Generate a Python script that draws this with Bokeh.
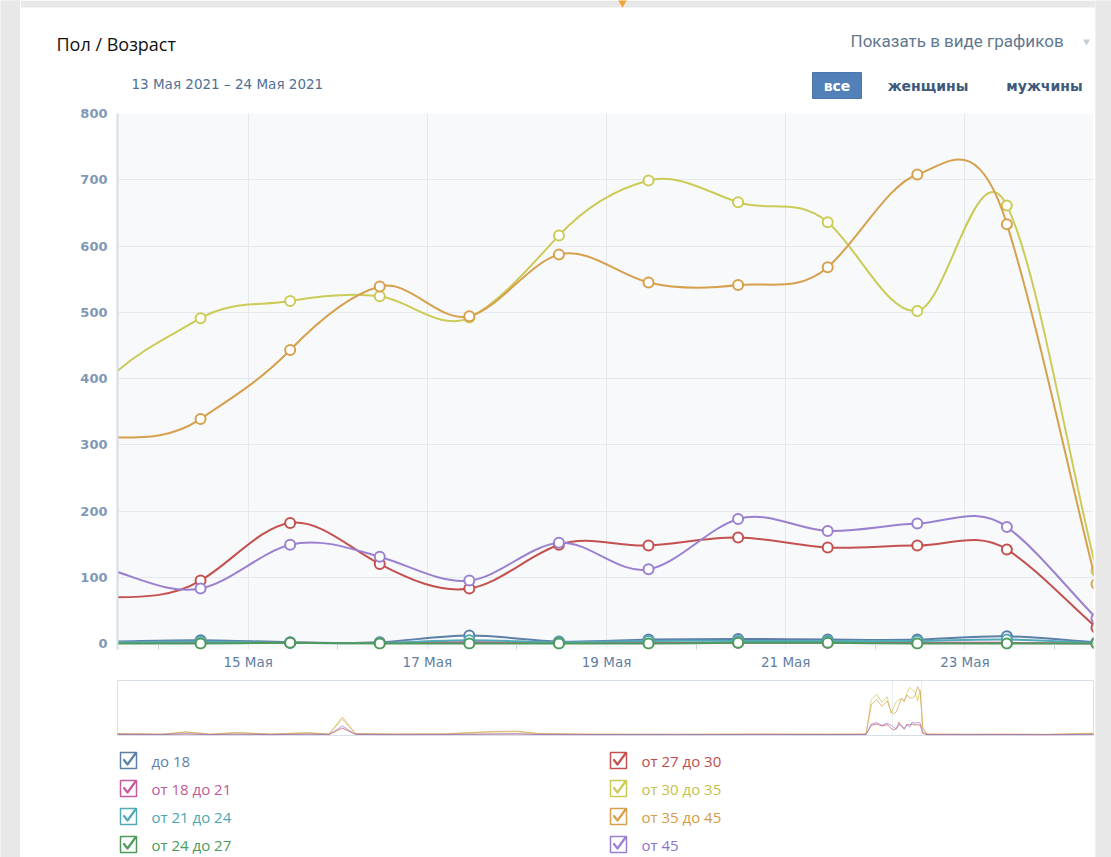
import numpy as np
import pandas as pd
from bokeh.plotting import figure
from bokeh.layouts import row, column
from bokeh.models import Range1d, FixedTicker, DatetimeTickFormatter, BoxAnnotation, ColumnDataSource
from bokeh.core.properties import value
from bokeh.embed import file_html
from bokeh.resources import INLINE

# ------------------------------------------------------------------ data
chart_title = "Пол / Возраст"
period_label = "13 Мая 2021 – 24 Мая 2021"
period_start = "2021-05-13"
period_end = "2021-05-24"
view_switch = "Показать в виде графиков"
tab_labels = ["все", "женщины", "мужчины"]

dates = ["2021-05-12", "2021-05-13", "2021-05-14", "2021-05-15", "2021-05-16", "2021-05-17",
         "2021-05-18", "2021-05-19", "2021-05-20", "2021-05-21", "2021-05-22", "2021-05-23",
         "2021-05-24"]

series_names = ["до 18", "от 18 до 21", "от 21 до 24", "от 24 до 27",
                "от 27 до 30", "от 30 до 35", "от 35 до 45", "от 45"]

age_u18 = [2, 3, 5, 2, 2, 12, 3, 6, 7, 6, 6, 11, 2]
age_18_21 = [1, 1, 1, 1, 1, 2, 1, 1, 1, 1, 1, 1, 0]
age_21_24 = [2, 2, 3, 1, 1, 5, 2, 4, 4, 4, 4, 6, 1]
age_24_27 = [0, 0, 0, 1, 0, 0, 0, 0, 1, 1, 0, 0, 0]
age_27_30 = [95, 70, 95, 182, 120, 83, 149, 148, 160, 145, 148, 142, 24]
age_30_35 = [315, 403, 491, 517, 524, 492, 616, 699, 666, 636, 502, 661, 110]
age_35_45 = [340, 311, 339, 443, 539, 494, 587, 545, 541, 568, 708, 633, 90]
age_45 = [140, 111, 83, 149, 131, 95, 152, 112, 188, 170, 181, 176, 38]

series_values = [age_u18, age_18_21, age_21_24, age_24_27, age_27_30, age_30_35, age_35_45, age_45]
series_colors = ["#5b7fa7", "#c65a9b", "#52a9b7", "#4d9a5b", "#c4504f", "#cbcb57", "#d6a04d", "#9a80d0"]
label_colors = ["#5d81a8", "#c05a96", "#4ba6b3", "#4c9a58", "#c04d4d", "#c2c24f", "#d39c48", "#8c72c8"]

y_ticks = [0, 100, 200, 300, 400, 500, 600, 700, 800]
x_tick_dates = ["2021-05-15", "2021-05-17", "2021-05-19", "2021-05-21", "2021-05-23"]
x_minor_dates = ["2021-05-14", "2021-05-16", "2021-05-18", "2021-05-20", "2021-05-22", "2021-05-24"]

# navigator (overview of the whole year, light lines)
nav_dates_before = ["2020-07-24", "2020-08-10", "2020-08-19", "2020-08-28", "2020-09-07", "2020-09-20",
                    "2020-10-04", "2020-10-12", "2020-10-17", "2020-10-22", "2020-11-05", "2020-11-25",
                    "2020-12-13", "2020-12-22", "2020-12-30", "2021-01-20", "2021-02-20", "2021-03-25",
                    "2021-04-20", "2021-05-03", "2021-05-05", "2021-05-07", "2021-05-09", "2021-05-11"]
nav_yellow_before = [15, 8, 45, 8, 35, 10, 35, 10, 230, 15, 10, 12, 40, 45, 15, 8, 6, 10, 8, 10, 520, 600, 480, 560]
nav_orange_before = [20, 10, 40, 10, 30, 12, 25, 12, 260, 20, 12, 15, 50, 55, 20, 10, 8, 12, 10, 12, 440, 520, 420, 500]
nav_purple_before = [8, 5, 15, 5, 10, 5, 10, 5, 130, 8, 5, 5, 12, 15, 6, 4, 4, 5, 4, 5, 160, 180, 140, 170]
nav_red_before = [6, 4, 12, 4, 8, 4, 8, 4, 100, 6, 4, 4, 10, 12, 5, 3, 3, 4, 3, 4, 140, 160, 130, 150]
nav_dates_after = ["2021-05-26", "2021-06-10", "2021-06-25", "2021-07-10", "2021-07-28"]
nav_yellow_after = [10, 6, 8, 5, 20]
nav_orange_after = [12, 8, 10, 6, 25]
nav_purple_after = [4, 3, 3, 2, 6]
nav_red_after = [3, 2, 3, 2, 5]
nav_start = "2020-07-24"
nav_end = "2021-07-28"

# ------------------------------------------------------------------ helpers
GRAY = "#e8e8e8"
POINT_OFFSET = pd.Timedelta(hours=11.25)
SMOOTH = 0.7


def ms(d):
    return pd.Timestamp(d).value / 1e6


def bezier_parts(xv, yv):
    xv = np.asarray(xv, float)
    yv = np.asarray(yv, float)
    t = np.zeros(len(yv))
    t[1:-1] = SMOOTH * (yv[2:] - yv[:-2])
    t[-1] = yv[-1] - yv[-2]
    h = np.diff(xv)
    return dict(x0=xv[:-1], y0=yv[:-1], x1=xv[1:], y1=yv[1:],
                cx0=xv[:-1] + h / 3, cy0=yv[:-1] + t[:-1] / 3,
                cx1=xv[1:] - h / 3, cy1=yv[1:] - t[1:] / 3)


x_pts = np.array([ms(pd.Timestamp(d) + POINT_OFFSET) for d in dates])

W = 1075
H_HEAD, H_MAIN, H_NAV, H_LEG = 100, 572, 70, 115


def pixel_figure(h):
    f = figure(width=W, height=h, x_range=Range1d(0, W), y_range=Range1d(h, 0),
               output_backend="svg", toolbar_location=None, min_border=0,
               x_axis_location=None, y_axis_location=None, outline_line_color=None,
               background_fill_color="white", border_fill_color="white")
    f.grid.visible = False
    f.frame_align = False
    return f


# ------------------------------------------------------------------ header
header = pixel_figure(H_HEAD)
header.quad(left=[0], right=[W], top=[0], bottom=[7], fill_color=GRAY, line_color=None)
header.scatter(x=[602], y=[2], marker="inverted_triangle", size=9, fill_color="#f2a533", line_color=None)
header.text(x=[36], y=[43], text=[chart_title], text_font=value("Open Sans"), text_font_size="18px",
            text_baseline="middle", text_color="#111111")
header.text(x=[111], y=[83], text=[period_label], text_font=value("DejaVu Sans"), text_font_size="13.5px",
            text_baseline="middle", text_color="#4f6f94")
header.text(x=[830], y=[40], text=[view_switch], text_font=value("Roboto"), text_font_size="17px",
            text_baseline="middle", text_color="#62788f")
header.scatter(x=[1066], y=[41], marker="inverted_triangle", size=7, fill_color="#c6ced8",
               line_color=None)
header.quad(left=[792], right=[841], top=[72], bottom=[98], fill_color="#5181b8", line_color="#4a78ad")
header.text(x=[816.5, 907.5, 1024], y=[85, 85, 85], text=tab_labels, text_font=value("DejaVu Sans"),
            text_font_size="14px", text_font_style="bold", text_align="center", text_baseline="middle",
            text_color=["white", "#3d5a7d", "#3d5a7d"])

# ------------------------------------------------------------------ main chart
x_start = ms(pd.Timestamp(period_start) + pd.Timedelta(hours=13.0))
x_end = ms(pd.Timestamp(period_end) + pd.Timedelta(hours=10.45))

p = figure(width=W, height=H_MAIN, x_axis_type="datetime",
           x_range=Range1d(x_start, x_end), y_range=Range1d(-9, 800),
           output_backend="svg", toolbar_location=None,
           min_border_left=97, min_border_right=2, min_border_top=13, min_border_bottom=22,
           background_fill_color="#f8f9fa", border_fill_color="white", outline_line_color=None)

p.yaxis.ticker = FixedTicker(ticks=y_ticks)
p.yaxis.axis_line_color = "#d3dde8"
p.yaxis.axis_line_width = 2
p.yaxis.major_tick_line_color = None
p.yaxis.major_tick_out = 0
p.yaxis.major_tick_in = 0
p.yaxis.minor_tick_line_color = None
p.yaxis.minor_tick_out = 0
p.yaxis.major_label_standoff = 10
p.yaxis.major_label_text_font = "DejaVu Sans"
p.yaxis.major_label_text_font_size = "13px"
p.yaxis.major_label_text_font_style = "bold"
p.yaxis.major_label_text_color = "#7f98b4"

p.xaxis.ticker = FixedTicker(ticks=[ms(d) for d in x_tick_dates], minor_ticks=[ms(d) for d in x_minor_dates])
fmt = "%d Мая"
p.xaxis.formatter = DatetimeTickFormatter(microseconds=fmt, milliseconds=fmt, seconds=fmt, minsec=fmt,
                                          minutes=fmt, hourmin=fmt, hours=fmt, days=fmt, months=fmt,
                                          years=fmt)
p.xaxis.axis_line_color = None
p.xaxis.major_tick_line_color = None
p.xaxis.major_tick_out = 0
p.xaxis.major_tick_in = 0
p.xaxis.minor_tick_in = 5
p.xaxis.minor_tick_out = 0
p.xaxis.minor_tick_line_color = "#c9d3de"
p.xaxis.major_label_standoff = 4
p.xaxis.major_label_text_font = "DejaVu Sans"
p.xaxis.major_label_text_font_size = "13.5px"
p.xaxis.major_label_text_color = "#5f7ea0"

p.ygrid.grid_line_color = "#e4e9f0"
p.xgrid.grid_line_color = "#e4e9f0"

for vals, col in zip(series_values, series_colors):
    src = ColumnDataSource(bezier_parts(x_pts, vals))
    p.bezier(x0="x0", y0="y0", x1="x1", y1="y1", cx0="cx0", cy0="cy0", cx1="cx1", cy1="cy1",
             source=src, line_color=col, line_width=2)
    p.scatter(x=x_pts, y=vals, marker="circle", size=10, fill_color="white", line_color=col, line_width=2)

# ------------------------------------------------------------------ navigator
nav = figure(width=W, height=H_NAV, x_axis_type="datetime",
             x_range=Range1d(ms(nav_start), ms(nav_end)), y_range=Range1d(-10, 800),
             output_backend="svg", toolbar_location=None,
             min_border_left=97, min_border_right=2, min_border_top=8, min_border_bottom=7,
             x_axis_location=None, y_axis_location=None,
             background_fill_color="white", border_fill_color="white", outline_line_color="#d8e0e9")
nav.grid.visible = False

nav_groups = [
    (nav_yellow_before, age_30_35, nav_yellow_after, series_colors[5]),
    (nav_orange_before, age_35_45, nav_orange_after, series_colors[6]),
    (nav_red_before, age_27_30, nav_red_after, series_colors[4]),
    (nav_purple_before, age_45, nav_purple_after, series_colors[7]),
]
nav_x = [ms(d) for d in nav_dates_before] + list(x_pts) + [ms(d) for d in nav_dates_after]
for before, main_vals, after, col in nav_groups:
    nav.line(x=nav_x, y=list(before) + list(main_vals) + list(after), line_color=col, line_width=1,
             line_alpha=0.7)
nav.add_layout(BoxAnnotation(left=ms(period_start), right=ms(period_end), fill_alpha=0,
                             line_color="#b5c3d3", line_width=1))

# ------------------------------------------------------------------ legend
leg = pixel_figure(H_LEG)
col_x = [108, 598]
bx = [col_x[i // 4] for i in range(len(series_names))]
by = [18 + 28 * (i % 4) for i in range(len(series_names))]
leg_src = ColumnDataSource(dict(x=bx, y=by, tx=[b + 23 for b in bx], name=series_names,
                                lc=series_colors, tc=label_colors,
                                cxs=[[b - 4.5, b - 1, b + 7] for b in bx],
                                cys=[[c - 0.5, c + 4, c - 7] for c in by]))
leg.scatter(x="x", y="y", source=leg_src, marker="square", size=16, fill_color="white",
            line_color="lc", line_width=1.5)
leg.multi_line(xs="cxs", ys="cys", source=leg_src, line_color="lc", line_width=2.2, line_join="round",
               line_cap="round")
leg.text(x="tx", y="y", text="name", source=leg_src, text_font=value("Open Sans"), text_font_size="15px",
         text_baseline="middle", text_color="tc")


# ------------------------------------------------------------------ side strips
def strip(w):
    s = figure(width=w, height=H_HEAD + H_MAIN + H_NAV + H_LEG, x_range=Range1d(0, 1), y_range=Range1d(0, 1),
               output_backend="svg", toolbar_location=None, min_border=0,
               x_axis_location=None, y_axis_location=None, outline_line_color=None,
               background_fill_color=GRAY, border_fill_color=GRAY)
    s.grid.visible = False
    s.frame_align = False
    s.quad(left=[0], right=[1], bottom=[0], top=[1], fill_color=GRAY, line_color=None)
    return s


layout = row(strip(20), column(header, p, nav, leg), strip(16))
open("out.html", "w").write(file_html(layout, INLINE))
